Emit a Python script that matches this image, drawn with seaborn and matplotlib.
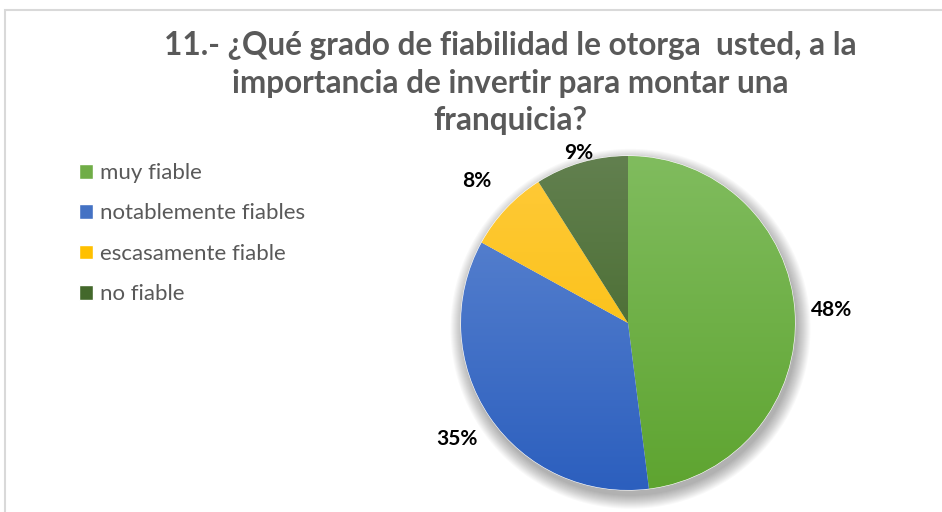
import numpy as np
import pandas as pd
import matplotlib
matplotlib.use("Agg")
import matplotlib.pyplot as plt
import seaborn as sns
from matplotlib.colors import LinearSegmentedColormap
from matplotlib.patches import Circle, Rectangle

categories = ["muy fiable", "notablemente fiables", "escasamente fiable", "no fiable"]
values = [48, 35, 8, 9]
label_texts = ["48%", "35%", "8%", "9%"]
title = "11.- ¿Qué grado de fiabilidad le otorga  usted, a la\nimportancia de invertir para montar una\nfranquicia?"

top_colors = ["#80BC5E", "#6088D2", "#FFCA3A", "#62804F"]
bottom_colors = ["#5EA430", "#2C5FBE", "#F8BC00", "#3B6120"]
base_colors = ["#70AD47", "#4472C4", "#FFC000", "#43682B"]
label_dist = [1.22, 1.24, 1.24, 1.06]

df = pd.DataFrame({"cat": categories, "val": values})

sns.set_theme(style="white")
plt.rcParams["font.family"] = ["Lato", "DejaVu Sans"]

fig = plt.figure(figsize=(9.42, 5.12), dpi=100)
fig.patch.set_facecolor("white")

# outer chart frame (light gray)
frame = Rectangle((4.5 / 942, -0.1), 1.2, (512 - 9.5) / 512 + 0.1, transform=fig.transFigure,
                  fill=False, edgecolor="#D9D9D9", linewidth=1.5)
fig.patches.append(frame)

ax = fig.add_axes([461 / 942, 22 / 512, 334 / 942, 334 / 512])
ax.set_xlim(-1, 1)
ax.set_ylim(-1, 1)

# soft shadow
for i in range(14):
    ax.add_patch(Circle((0.015, -0.035), 1.0 + 0.006 * i, facecolor="black",
                        edgecolor="none", alpha=0.022, zorder=0, clip_on=False))

wedges, _ = ax.pie(df["val"], colors=base_colors, startangle=90, counterclock=False,
                   radius=1.0, wedgeprops=dict(linewidth=0.8, edgecolor="white"))
ax.set_xlim(-1, 1)
ax.set_ylim(-1, 1)

grad = np.linspace(1, 0, 256).reshape(-1, 1)
for w, tc, bc in zip(wedges, top_colors, bottom_colors):
    cmap = LinearSegmentedColormap.from_list("g", [bc, tc])
    im = ax.imshow(grad, cmap=cmap, extent=(-1, 1, -1, 1), aspect="auto",
                   origin="upper", zorder=2, vmin=0, vmax=1)
    im.set_clip_path(w)
    w.set_zorder(1)

# percentage labels outside
for w, txt, d in zip(wedges, label_texts, label_dist):
    ang = np.deg2rad((w.theta1 + w.theta2) / 2)
    ax.text(d * np.cos(ang), d * np.sin(ang), txt, ha="center", va="center",
            fontsize=15, fontweight="bold", color="#000000", clip_on=False, zorder=5)

ax.set_axis_off()

fig.text(510 / 942, 1 - 83 / 512, title, ha="center", va="center", fontsize=22.7, fontweight="bold",
         color="#595959", linespacing=1.34)

handles = [Rectangle((0, 0), 1, 1, facecolor=c) for c in base_colors]
leg = fig.legend(handles, categories, loc="upper left", bbox_to_anchor=(70 / 942, 1 - 154 / 512),
                 frameon=False, fontsize=16, handlelength=0.65, handleheight=0.65,
                 handletextpad=0.3, labelspacing=0.92, borderaxespad=0)
for t in leg.get_texts():
    t.set_color("#595959")

fig.savefig("out.png", dpi=100, facecolor="white")
